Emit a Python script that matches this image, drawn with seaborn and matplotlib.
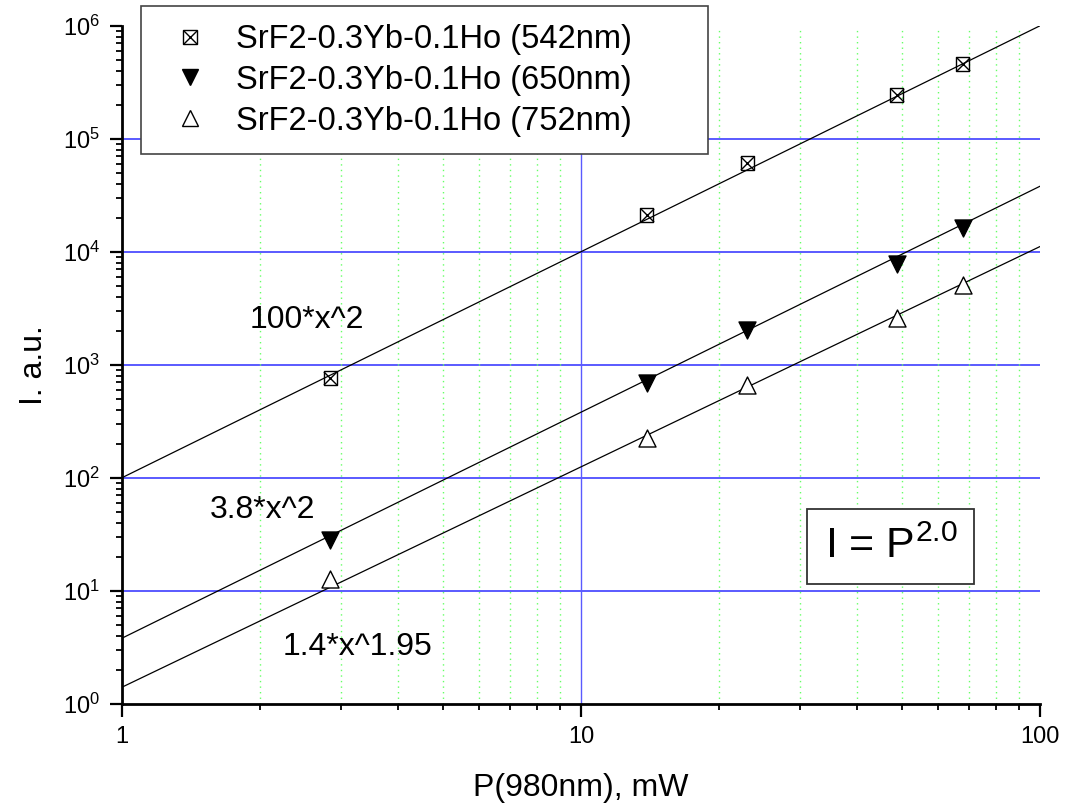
import numpy as np
import pandas as pd
import matplotlib
matplotlib.use("Agg")
import matplotlib.pyplot as plt
import seaborn as sns
from matplotlib.lines import Line2D
from matplotlib.legend_handler import HandlerTuple
from matplotlib.ticker import LogLocator, NullFormatter

# measured points (pump power in mW, intensity in a.u.)
power_mw = [2.84, 13.9, 23.0, 48.7, 67.9]
int_542 = [763, 21100, 61000, 244000, 458000]
int_650 = [28, 689, 2030, 7780, 16300]
int_752 = [12.7, 224, 661, 2606, 5070]

labels = ["SrF2-0.3Yb-0.1Ho (542nm)",
          "SrF2-0.3Yb-0.1Ho (650nm)",
          "SrF2-0.3Yb-0.1Ho (752nm)"]

# power-law fits I = A * P^n
fit_amp = [100, 3.8, 1.4]
fit_exp = [2.0, 2.0, 1.95]
fit_text = ["100*x^2", "3.8*x^2", "1.4*x^1.95"]

x_lim = (1, 100)
y_lim = (1, 1e6)

sns.set_style("white")
plt.rcParams['font.family'] = ['Liberation Sans', 'DejaVu Sans']
plt.rcParams['mathtext.fontset'] = 'custom'
plt.rcParams['mathtext.rm'] = 'Liberation Sans'
plt.rcParams['mathtext.it'] = 'Liberation Sans:italic'
plt.rcParams['mathtext.bf'] = 'Liberation Sans:bold'
for key in ['text.color', 'axes.labelcolor', 'xtick.color', 'ytick.color']:
    plt.rcParams[key] = 'black'

fig = plt.figure(figsize=(10.65, 8.09), dpi=100)
ax = fig.add_axes([0.1146, 0.1302, 0.862, 0.838])
ax.set_xscale("log")
ax.set_yscale("log")
ax.set_xlim(*x_lim)
ax.set_ylim(*y_lim)

# grid: blue decades, green dotted minor x lines
blue = "#5a5aff"
for e in range(1, 6):
    ax.axhline(10 ** e, color=blue, lw=1.4, zorder=1)
ax.axvline(10, color=blue, lw=1.0, zorder=1)
for dec in [1, 10]:
    for m in range(2, 10):
        ax.axvline(m * dec, ymax=0.993, color="#66ff66", lw=1.0,
                   ls=(0, (1, 3)), zorder=1)

# fit lines
fit_x = np.array(x_lim, dtype=float)
for a, n in zip(fit_amp, fit_exp):
    sns.lineplot(x=fit_x, y=a * fit_x ** n, color="black", lw=0.9, ax=ax,
                 legend=False, zorder=3)

# data points
sns.scatterplot(x=power_mw, y=int_542, marker="s", s=90, color="black",
                facecolor="none", edgecolor="black", linewidth=1.0,
                ax=ax, legend=False, zorder=5)
sns.scatterplot(x=power_mw, y=int_542, marker="x", s=90, color="black",
                linewidth=1.0, ax=ax, legend=False, zorder=5)
sns.scatterplot(x=power_mw, y=int_650, marker="v", s=150, color="black",
                edgecolor="black", linewidth=1.0, ax=ax, legend=False, zorder=5)
sns.scatterplot(x=power_mw, y=int_752, marker="^", s=150, color="black",
                facecolor="white", edgecolor="black", linewidth=1.0,
                ax=ax, legend=False, zorder=5)

# fit labels
text_pos = [(1.90, 2490), (1.555, 51.8), (2.243, 3.18)]
for (tx, ty), t in zip(text_pos, fit_text):
    ax.text(tx, ty, t, fontsize=23, ha="left", va="center", color="black",
            zorder=6)

ax.text(47.3, 24.4, r"I = P$^{2.0}$", fontsize=31, ha="center", va="center",
        color="black", zorder=6,
        bbox=dict(boxstyle="square,pad=0.4", fc="white", ec="#333333", lw=1.3))

# axes styling
for side in ["top", "right"]:
    ax.spines[side].set_visible(False)
for side in ["left", "bottom"]:
    ax.spines[side].set_color("black")
    ax.spines[side].set_linewidth(2.0)
    ax.spines[side].set_zorder(7)

ax.yaxis.set_major_locator(LogLocator(base=10, numticks=10))
ax.yaxis.set_minor_locator(LogLocator(base=10, subs=np.arange(2, 10), numticks=10))
ax.yaxis.set_minor_formatter(NullFormatter())
ax.xaxis.set_minor_formatter(NullFormatter())
ax.set_xticks([1, 10, 100])
ax.set_xticklabels(["1", "10", "100"])

ax.tick_params(which="major", direction="out", length=9, width=1.6,
               labelsize=17, pad=7, colors="black", left=True, bottom=True)
ax.tick_params(which="minor", direction="out", length=4.5, width=1.3,
               left=True, bottom=True)

ax.set_xlabel("P(980nm), mW", fontsize=23, color="black")
ax.set_ylabel("I. a.u.", fontsize=23, color="black")
ax.xaxis.set_label_coords(0.5, -0.103)
ax.yaxis.set_label_coords(-0.08, 0.5)

# legend
h_sq = (Line2D([], [], marker="s", ls="none", mfc="none", mec="black", ms=10, mew=1.0),
        Line2D([], [], marker="x", ls="none", color="black", ms=10, mew=1.0))
h_down = Line2D([], [], marker="v", ls="none", mfc="black", mec="black", ms=12)
h_up = Line2D([], [], marker="^", ls="none", mfc="white", mec="black", ms=12, mew=1.0)
W, H = 1065, 809
leg = ax.legend(handles=[h_sq, h_down, h_up], labels=labels,
                handler_map={tuple: HandlerTuple(ndivide=1)},
                loc="upper left",
                bbox_to_anchor=(141 / W, 1 - 153 / H, 567 / W, 147 / H),
                bbox_transform=fig.transFigure, mode="expand",
                borderaxespad=0, fontsize=23.5, frameon=True, fancybox=False,
                edgecolor="#444444", framealpha=1, handlelength=1.9,
                handletextpad=0.45, borderpad=0.55, labelspacing=0.3)
leg.get_frame().set_linewidth(1.2)
leg.set_zorder(10)
for t in leg.get_texts():
    t.set_color("black")

fig.savefig("out.png", dpi=100)
